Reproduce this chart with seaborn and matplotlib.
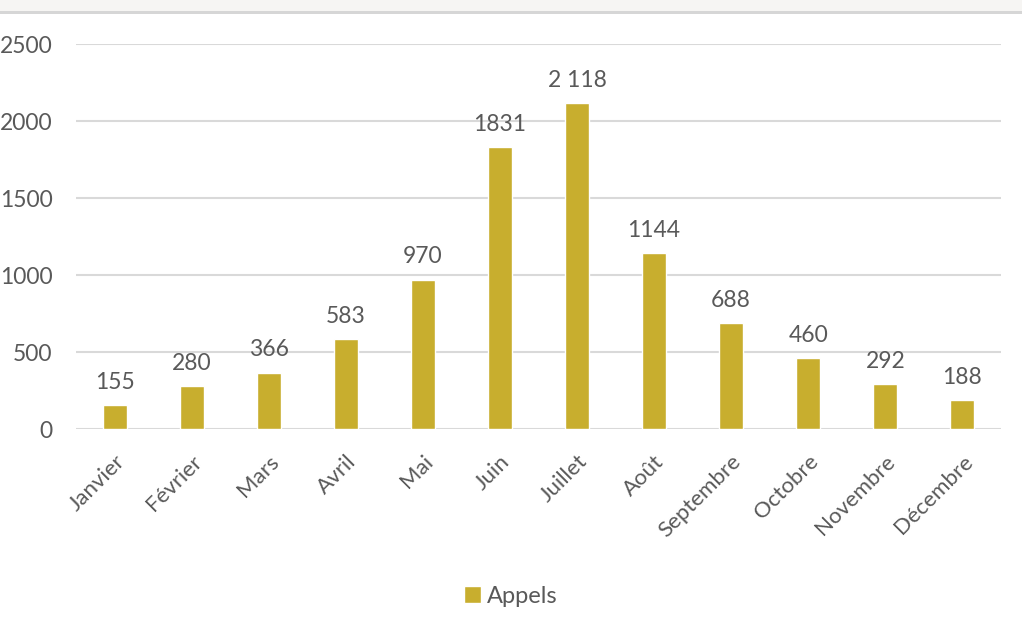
import pandas as pd
import numpy as np
import matplotlib.pyplot as plt
import seaborn as sns
from matplotlib.patches import Rectangle

# données
mois = ['Janvier', 'Février', 'Mars', 'Avril', 'Mai', 'Juin', 'Juillet', 'Août',
        'Septembre', 'Octobre', 'Novembre', 'Décembre']
appels = [155, 280, 366, 583, 970, 1831, 2118, 1144, 688, 460, 292, 188]
etiquettes = ['155', '280', '366', '583', '970', '1831', '2 118', '1144', '688', '460', '292', '188']
yticks = [0, 500, 1000, 1500, 2000, 2500]

data = pd.DataFrame({'Mois': mois, 'Appels': appels})

sns.set_style('white')
plt.rcParams['font.family'] = ['Lato', 'DejaVu Sans']

couleur = '#C8AE2E'
gris = '#595959'

fig = plt.figure(figsize=(10.22, 6.32), dpi=100)
ax = fig.add_axes([0.0744, 0.321, 0.905, 0.609])

sns.barplot(data=data, x='Mois', y='Appels', color=couleur, width=0.31,
            saturation=1, ax=ax, label='Appels')

for i, (v, t) in enumerate(zip(appels, etiquettes)):
    ax.annotate(t, (i, v), xytext=(0, 9), textcoords='offset points',
                ha='center', va='bottom', fontsize=16.5, color=gris)

ax.set_ylim(0, 2500)
ax.set_xlim(-0.5, 11.5)
ax.set_yticks(yticks)
ax.set_yticklabels([str(y) for y in yticks], fontsize=16.5, color=gris)
ax.set_xticks(range(len(mois)))
ax.set_xticklabels(mois, rotation=45, ha='right', rotation_mode='anchor',
                   fontsize=16, color=gris)
ax.tick_params(axis='y', length=0, pad=17)
ax.tick_params(axis='x', length=0, pad=16)
ax.set_xlabel('')
ax.set_ylabel('')
ax.yaxis.grid(True, color='#d9d9d9', linewidth=1.5)
ax.set_axisbelow(True)
sns.despine(ax=ax, left=True, top=True, right=True, bottom=True)

ax.legend(loc='center', bbox_to_anchor=(0.47, -0.435), frameon=False,
          fontsize=17, labelcolor=gris, handlelength=0.75, handleheight=0.75,
          handletextpad=0.25)

# bandeau gris en haut
fig.patches.append(Rectangle((0, 1 - 11 / 632), 1, 11 / 632, transform=fig.transFigure,
                             facecolor='#f6f5f3', edgecolor='none'))
fig.patches.append(Rectangle((0, 1 - 14 / 632), 1, 3 / 632, transform=fig.transFigure,
                             facecolor='#d6d6d6', edgecolor='none'))

fig.savefig('out.png', dpi=100)
